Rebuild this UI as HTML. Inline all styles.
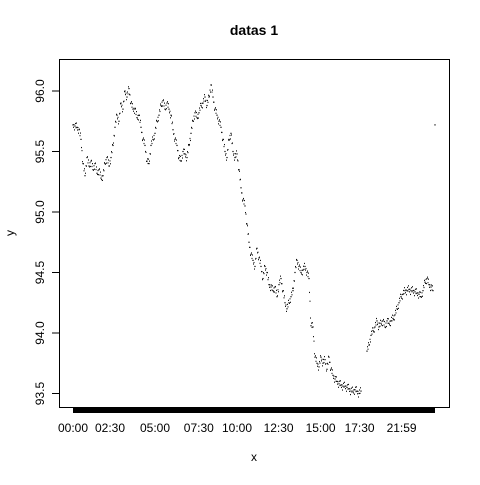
<!DOCTYPE html>
<html><head><meta charset="utf-8"><style>
body{margin:0;background:#fff;}
svg text{font-family:"Liberation Sans",sans-serif;fill:#000;}
</style></head><body>
<svg id="chart" width="480" height="480" viewBox="0 0 480 480">
<rect width="480" height="480" fill="#fff"/>
<text x="254" y="35" font-size="14" font-weight="bold" text-anchor="middle">datas 1</text>
<rect x="59.5" y="59.5" width="390" height="348" fill="none" stroke="#000" stroke-width="1"/>
<text x="254" y="461" font-size="12" text-anchor="middle">x</text>
<text x="14" y="233" font-size="12" text-anchor="middle" transform="rotate(-90 14 233)">y</text>
<g id="yaxis"></g>
<g id="xaxis"></g>
<g id="points"></g>
</svg>
<script>
const yTicks=[93.5,94.0,94.5,95.0,95.5,96.0];
const yTickLabels=["93.5","94.0","94.5","95.0","95.5","96.0"];
const xTickIndex=[0,18.5,41,62.9,82,102.8,123.8,143.3,164.3];
const xTickLabels=["00:00","02:30","05:00","07:30","10:00","12:30","15:00","17:30","21:59"];
const values=[95.72,95.71,95.70,95.68,95.6,95.4,95.3,95.45,95.38,95.42,95.35,95.4,95.32,95.35,95.28,95.3,95.4,95.45,95.38,95.45,95.55,95.7,95.8,95.75,95.9,95.85,96.0,95.95,96.02,95.9,95.85,95.85,95.78,95.8,95.7,95.6,95.55,95.42,95.4,95.55,95.6,95.65,95.75,95.8,95.88,95.92,95.85,95.9,95.85,95.8,95.68,95.6,95.55,95.45,95.42,95.5,95.48,95.45,95.55,95.65,95.75,95.82,95.78,95.82,95.88,95.9,95.95,95.88,95.95,96.05,95.95,95.85,95.8,95.75,95.7,95.6,95.5,95.45,95.6,95.65,95.5,95.45,95.48,95.35,95.2,95.1,95.05,94.9,94.75,94.65,94.6,94.55,94.7,94.62,94.55,94.45,94.55,94.5,94.4,94.38,94.35,94.38,94.3,94.4,94.45,94.35,94.25,94.2,94.25,94.3,94.35,94.5,94.6,94.55,94.5,94.52,94.55,94.5,94.45,94.06,94.05,93.8,93.75,93.72,93.8,93.75,93.78,93.7,93.8,93.7,93.65,93.62,93.6,93.58,93.57,93.56,93.56,93.55,93.54,93.52,93.52,93.53,93.52,93.5,93.52,null,null,93.85,93.9,93.98,94.02,94.05,94.1,94.05,94.08,94.1,94.05,94.1,94.08,94.1,94.12,94.15,94.2,94.25,94.3,94.32,94.35,94.35,94.36,94.35,94.35,94.34,94.33,94.32,94.3,94.35,94.42,94.45,94.4,94.38,94.35,95.72];
const NS="http://www.w3.org/2000/svg";
const xS=i=>73+i*2;
const yS=v=>91+(96-v)*121;
function mk(tag,attrs,parent){const e=document.createElementNS(NS,tag);for(const k in attrs)e.setAttribute(k,attrs[k]);parent.appendChild(e);return e;}
const ya=document.getElementById('yaxis');
mk('line',{x1:59.5,x2:59.5,y1:yS(93.5),y2:yS(96),stroke:'#000'},ya);
yTicks.forEach((t,i)=>{
  const y=yS(t);
  const tk=mk('line',{x1:52,x2:59.5,y1:y,y2:y,stroke:'#000'},ya);
  
  
  const tx=mk('text',{x:44,y:y,'font-size':12,'text-anchor':'middle',transform:`rotate(-90 44 ${y})`},ya);
  tx.textContent=yTickLabels[i];
  
  
});
const xa=document.getElementById('xaxis');
const bar=mk('rect',{x:xS(0),y:407,width:xS(values.length-1)-xS(0),height:6,fill:'#000'},xa);


xTickIndex.forEach((h,i)=>{
  const tx=mk('text',{x:xS(h),y:432,'font-size':12,'text-anchor':'middle'},xa);
  tx.textContent=xTickLabels[i];
  
  
});
const pg=document.getElementById('points');
const offs=[-4,2,-1,4,-3,1];
for(let i=0;i<values.length;i++){
  if(values[i]==null)continue;
  const x=xS(i),y=yS(values[i]);
  const p=mk('rect',{x:x-0.6,y:y-0.6,width:1.2,height:1.2,fill:'#000'},pg);
  
  
  const n=values[i+1];
  if(n!=null&&i+1<values.length-1){
    const x2=xS(i+1),y2=yS(n);
    for(let k=1;k<4;k++){
      const f=k/4;
      const o=offs[(i*3+k)%offs.length];
      const q=mk('rect',{x:x+(x2-x)*f-0.5,y:y+(y2-y)*f-0.5+o,width:1,height:1.2,fill:'#111'},pg);
      
      
    }
  }
}
</script>
</body></html>
